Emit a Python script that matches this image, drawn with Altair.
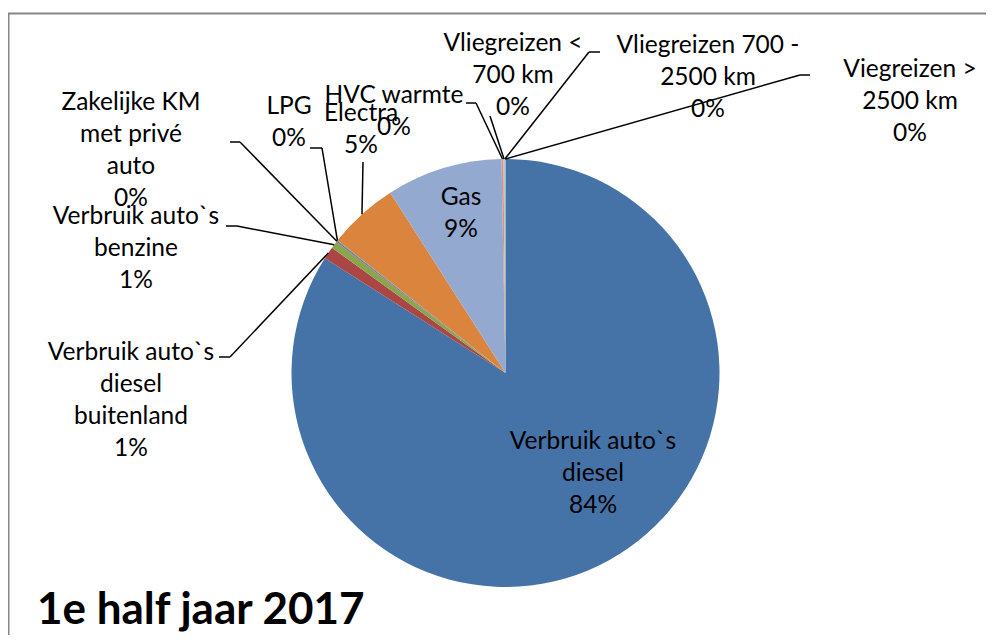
import math
import altair as alt
import pandas as pd

# ---------------- data ----------------
categories = [
    "Verbruik auto`s diesel",
    "Verbruik auto`s diesel buitenland",
    "Verbruik auto`s benzine",
    "Zakelijke KM met privé auto",
    "LPG",
    "Electra",
    "Gas",
    "HVC warmte",
    "Vliegreizen < 700 km",
    "Vliegreizen 700 - 2500 km",
    "Viegreizen > 2500 km",
]
values = [84.0, 0.95, 0.55, 0.10, 0.05, 5.30, 8.75, 0.15, 0.08, 0.04, 0.03]
label_lines = [
    ["Verbruik auto`s", "diesel"],
    ["Verbruik auto`s", "diesel", "buitenland"],
    ["Verbruik auto`s", "benzine"],
    ["Zakelijke KM", "met privé", "auto"],
    ["LPG"],
    ["Electra"],
    ["Gas"],
    ["HVC warmte"],
    ["Vliegreizen <", "700 km"],
    ["Vliegreizen 700 -", "2500 km"],
    ["Viegreizen >", "2500 km"],
]
title_text = "1e half jaar 2017"

# ---------------- styles / layout ----------------
colors = ["#4572A7", "#AA4643", "#89A54E", "#80699B", "#3D96AE", "#DB843D",
          "#93A9CF", "#D19392", "#B9CD96", "#A99BBD", "#91C3D5"]
FONT = "Lato"
W, H = 978, 627          # plot area (page minus 8px margin)
OFF = 8                  # page margin
CX, CY, R = 505.5, 373.0, 214.0   # pie centre / radius in page pixels
# centre of the first text line of every label (page pixels)
label_pos = [(593, 442), (131, 353), (136, 217), (131, 103), (289, 107),
             (361, 114), (461, 198), (394, 96), (513, 44), (708, 46), (910, 70)]
leader_pts = [None, ((230, 357), (219, 357)), ((237, 226), (226, 226)),
              ((240, 142), (230, 142)), ((322, 148), (310, 148)),
              ((363, 162), (363, 162)), None, ((476, 103), (466, 103)),
              ((490, 116), (490, 116)), ((589, 52), (600, 52)),
              ((800, 75), (810, 75))]

# ---------------- tables ----------------
total = sum(values)
pie_df = pd.DataFrame({"idx": range(len(categories)), "category": categories, "value": values})

lab_rows = []
for i, (lines, v) in enumerate(zip(label_lines, values)):
    txt = "\n".join(lines + [f"{round(v / total * 100)}%"])
    lab_rows.append({"lx": label_pos[i][0], "ly": label_pos[i][1], "text": txt})
lab_df = pd.DataFrame(lab_rows)

seg_rows = []
cum = 0.0
for i, v in enumerate(values):
    mid = (cum + v / 2) / total * 2 * math.pi
    cum += v
    if leader_pts[i] is None:
        continue
    sx, sy = CX + R * math.sin(mid), CY - R * math.cos(mid)
    (ex, ey), (tx, ty) = leader_pts[i]
    seg_rows.append({"x": sx, "y": sy, "x2": ex, "y2": ey})
    if (ex, ey) != (tx, ty):
        seg_rows.append({"x": ex, "y": ey, "x2": tx, "y2": ty})
seg_df = pd.DataFrame(seg_rows)

title_df = pd.DataFrame({"tx": [37], "ty": [624], "text": [title_text]})

xs = alt.Scale(domain=[OFF, OFF + W], range=[0, W])
ys = alt.Scale(domain=[OFF, OFF + H], range=[0, H])

border = alt.Chart(pd.DataFrame({"a": [0]})).mark_rect(
    fillOpacity=0, stroke="#878787", strokeWidth=2
).encode(x=alt.value(0.5), x2=alt.value(1200), y=alt.value(5.5), y2=alt.value(1200))

pie = alt.Chart(pie_df).mark_arc(radius=R).encode(
    theta=alt.Theta("value:Q", stack=True),
    color=alt.Color("category:N", scale=alt.Scale(domain=categories, range=colors), legend=None),
    order=alt.Order("idx:Q"),
    x=alt.value(CX - OFF),
    y=alt.value(CY - OFF),
)

leaders = alt.Chart(seg_df).mark_rule(color="black", strokeWidth=1.5).encode(
    x=alt.X("x:Q", scale=xs, axis=None),
    y=alt.Y("y:Q", scale=ys, axis=None),
    x2="x2:Q",
    y2="y2:Q",
)

labels = alt.Chart(lab_df).mark_text(
    font=FONT, fontSize=24.5, lineBreak="\n", lineHeight=32,
    align="center", baseline="middle", color="black"
).encode(
    x=alt.X("lx:Q", scale=xs, axis=None),
    y=alt.Y("ly:Q", scale=ys, axis=None),
    text="text:N",
)

title = alt.Chart(title_df).mark_text(
    font=FONT, fontSize=44, fontWeight="bold", align="left", baseline="alphabetic", color="black"
).encode(
    x=alt.X("tx:Q", scale=xs, axis=None),
    y=alt.Y("ty:Q", scale=ys, axis=None),
    text="text:N",
)

chart = alt.layer(border, pie, leaders, labels, title).properties(
    width=W, height=H, padding=0, autosize=alt.AutoSizeParams(type="none"),
    background="white"
).configure_view(strokeWidth=0)

chart.save("out.html", embed_options={"renderer": "svg", "actions": False})
